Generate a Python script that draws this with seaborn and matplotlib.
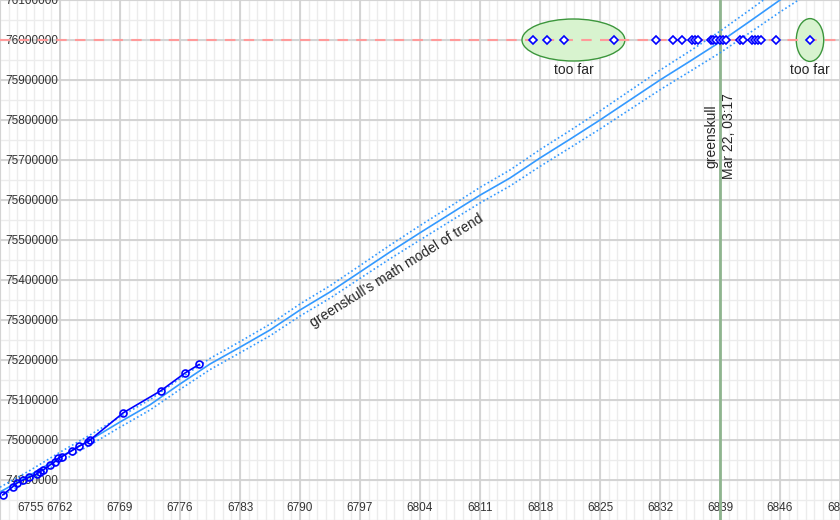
import numpy as np
import pandas as pd
import matplotlib
matplotlib.use("Agg")
import matplotlib.pyplot as plt
from matplotlib.patches import Ellipse
import matplotlib.transforms as mtransforms
import seaborn as sns

# observed submissions (day, value)
obs_days = [6755.31, 6756.48, 6756.95, 6757.72, 6758.42, 6759.28, 6759.67, 6760.05,
            6760.83, 6761.42, 6761.80, 6762.20, 6763.36, 6764.25, 6765.30, 6765.50,
            6769.38, 6773.75, 6776.62, 6778.25]
obs_vals = [74862500, 74883000, 74892000, 74900000, 74907000, 74915000, 74921000, 74925000,
            74937500, 74946000, 74954000, 74958000, 74973000, 74985000, 74996000, 75000000,
            75068000, 75123000, 75168000, 75189000]

# predictions placed on the 76M line
guess_days = [6817.15, 6818.85, 6820.84, 6826.67, 6831.53, 6833.55, 6834.53, 6835.70,
              6836.08, 6836.47, 6837.92, 6838.22, 6838.53, 6839.00, 6839.32, 6839.70,
              6841.33, 6841.72, 6842.70, 6843.08, 6843.47, 6843.75, 6845.53, 6849.50]
target = 76000000

# trend model (center line and half width of band)
trend_days = [6755.0, 6758.5, 6762.0, 6765.5, 6769.0, 6772.5, 6776.0, 6779.5, 6783.0,
              6786.5, 6790.0, 6793.5, 6797.0, 6800.5, 6804.0, 6807.5, 6811.0, 6814.5,
              6818.0, 6821.5, 6825.0, 6828.5, 6832.0, 6835.5, 6839.0, 6842.5, 6846.0, 6853.0]
trend_vals = [74870000, 74912000, 74957000, 75000000, 75045000, 75088000, 75140000, 75190000,
              75232000, 75275000, 75325000, 75370000, 75420000, 75470000, 75518000, 75565000,
              75612000, 75655000, 75705000, 75752000, 75800000, 75850000, 75900000, 75947000,
              75995000, 76047000, 76100000, 76200000]
trend_err = [12000, 12000, 12500, 12500, 13000, 13000, 13500, 14000, 14000,
             14500, 15000, 15500, 16000, 17000, 18000, 18500, 19500, 20000,
             21000, 21500, 22500, 23500, 24500, 25500, 27000, 28500, 30000, 33000]

x_ticks = np.arange(6755, 6854, 7)
y_ticks = np.arange(74900000, 76100001, 100000)

sns.set_theme(style="white")
plt.rcParams['font.family'] = ['Liberation Sans', 'DejaVu Sans']

fig = plt.figure(figsize=(8.4, 5.2), dpi=100)
ax = fig.add_axes([0, 0, 1, 1])
ax.set_facecolor("white")

# grid drawn as plain lines so tick labels sit on top
ax.vlines(np.arange(6755, 6854, 1), 74800000, 76100000, color="#ececec", lw=1.0, zorder=0)
ax.hlines(np.arange(74800000, 76100001, 50000), 6755, 6853, color="#ececec", lw=1.0, zorder=0)
ax.vlines(x_ticks, 74800000, 76100000, color="#d2d2d2", lw=1.3, zorder=0.1)
ax.hlines(y_ticks, 6755, 6853, color="#d2d2d2", lw=1.3, zorder=0.1)

trend = pd.DataFrame({'day': trend_days, 'val': trend_vals, 'err': trend_err})
trend['hi'] = trend['val'] + trend['err']
trend['lo'] = trend['val'] - trend['err']
obs = pd.DataFrame({'day': obs_days, 'val': obs_vals})
guess = pd.DataFrame({'day': guess_days, 'val': [target] * len(guess_days)})

# "too far" ellipses
ax.add_patch(Ellipse((6821.9, target), 12.0, 105000, facecolor="#d8f3cf", edgecolor="#3c963c",
                     lw=1, zorder=1))
ax.add_patch(Ellipse((6849.5, target), 3.2, 107000, facecolor="#d8f3cf", edgecolor="#3c963c",
                     lw=1, zorder=1))

ax.axhline(target, color="#ff9a9a", lw=1.5, ls=(0, (5, 4)), zorder=2)
ax.axvline(6839, color="#8fb58f", lw=2, zorder=2)

sns.lineplot(data=trend, x='day', y='val', color="#3399ff", lw=1.2, ax=ax, zorder=3)
sns.lineplot(data=trend, x='day', y='hi', color="#3399ff", lw=1.2, ls=(0, (1, 1.5)), ax=ax, zorder=3)
sns.lineplot(data=trend, x='day', y='lo', color="#3399ff", lw=1.2, ls=(0, (1, 1.5)), ax=ax, zorder=3)

sns.lineplot(data=obs, x='day', y='val', color="#0000ff", lw=1.2, marker='o', markersize=5,
             markerfacecolor='none', markeredgecolor="#0000ff", markeredgewidth=1.2, ax=ax, zorder=4)
ax.plot(guess['day'], guess['val'], ls='none', marker='D', markersize=4.5,
        markerfacecolor='white', markeredgecolor="#0000ff", markeredgewidth=1.2, zorder=5)

ax.text(6821.9, 75925000, "too far", ha='center', va='center', fontsize=10)
ax.text(6849.5, 75925000, "too far", ha='center', va='center', fontsize=10)
ax.text(6839, 75758750, "greenskull\nMar 22, 03:17", rotation=90, ha='center', va='center',
        multialignment='center', fontsize=10, linespacing=1.3)
ax.text(6801.3, 75422500, "greenskull\u2019s math model of trend", rotation=32,
        rotation_mode='anchor', ha='center', va='center', fontsize=10)

ax.set_xlim(6755, 6853)
ax.set_ylim(74800000, 76100000)
ax.set_xticks(x_ticks)
ax.set_yticks(y_ticks)
ax.set_yticklabels([str(v) for v in y_ticks])
for s in ax.spines.values():
    s.set_visible(False)

ax.tick_params(axis='both', which='both', length=0, labelsize=8.5, labelcolor="#333333")
ax.tick_params(axis='y', pad=-4)
ax.tick_params(axis='x', pad=-13)
for lab in ax.get_yticklabels():
    lab.set_horizontalalignment('left')
first = ax.get_xticklabels()[0]
first.set_horizontalalignment('left')
first.set_transform(first.get_transform() + mtransforms.ScaledTranslation(0.17, 0, fig.dpi_scale_trans))

ax.set_xlabel("")
ax.set_ylabel("")
fig.savefig("out.png", dpi=100)
